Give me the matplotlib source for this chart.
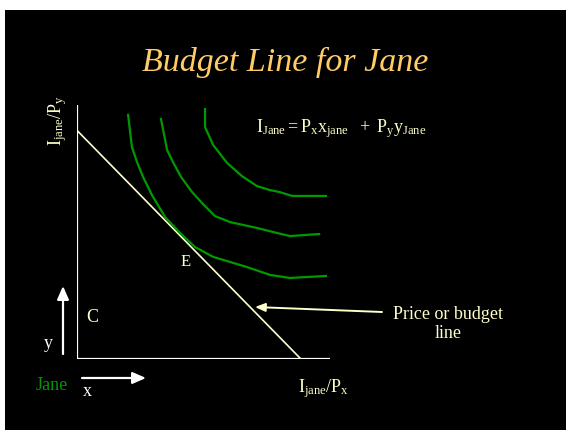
import matplotlib
matplotlib.use("Agg")
import matplotlib.pyplot as plt
from matplotlib.patches import Rectangle

plt.rcParams['font.family'] = ['Liberation Serif', 'DejaVu Serif']
plt.rcParams['mathtext.fontset'] = 'custom'
plt.rcParams['mathtext.rm'] = 'Liberation Serif'
plt.rcParams['mathtext.it'] = 'Liberation Serif:italic'

# Budget line end points (x-intercept and y-intercept)
budget_x = [0.0, 8.85]
budget_y = [9.0, 0.0]

# Indifference curves, lowest to highest utility
u1_x = [2.02, 2.17, 2.37, 2.61, 2.96, 3.48, 4.07, 4.66, 5.38, 6.72, 7.63, 8.42, 9.84]
u1_y = [9.61, 8.35, 7.76, 7.17, 6.46, 5.59, 4.96, 4.41, 4.02, 3.62, 3.31, 3.19, 3.27]

u2_x = [3.32, 3.56, 3.79, 4.11, 4.55, 4.98, 5.45, 6.05, 7.11, 7.91, 8.42, 9.57]
u2_y = [9.45, 8.23, 7.76, 7.17, 6.57, 6.10, 5.63, 5.39, 5.16, 4.96, 4.84, 4.92]

u3_x = [5.06, 5.06, 5.38, 5.93, 6.52, 7.11, 7.63, 8.02, 8.50, 9.84]
u3_y = [9.84, 9.13, 8.43, 7.72, 7.20, 6.81, 6.65, 6.57, 6.42, 6.42]

W, H = 566, 430
fig = plt.figure(figsize=(W / 100, H / 100), dpi=100, facecolor='white')

cream = '#FFFFCC'
green = '#009900'

# overlay in pixel coordinates for the slide background, text and arrows
ov = fig.add_axes([0, 0, 1, 1])
ov.set_xlim(0, W)
ov.set_ylim(H, 0)
ov.axis('off')
ov.add_patch(Rectangle((5, 10), W - 5, H - 10, facecolor='black',
                       edgecolor='none', zorder=0))

# main diagram axes
ax = fig.add_axes([77 / W, (H - 359) / H, (330 - 77) / W, (359 - 105) / H])
ax.set_xlim(0, 10)
ax.set_ylim(0, 10)
ax.axis('off')

ax.plot([0, 0], [0, 10], color='white', lw=1.6, solid_capstyle='butt')
ax.plot([0, 10], [0, 0], color='white', lw=1.6, solid_capstyle='butt')
ax.plot(budget_x, budget_y, color=cream, lw=1.2)
for cx, cy in [(u1_x, u1_y), (u2_x, u2_y), (u3_x, u3_y)]:
    ax.plot(cx, cy, color=green, lw=1.6)

ov.text(285, 71, 'Budget Line for Jane', color='#FFCC66', fontsize=24.5,
        style='italic', ha='center', va='baseline')

ov.text(256, 132, r'$\mathregular{I_{Jane} = P_x x_{jane}\ \ +\ P_y y_{Jane}}$',
        color=cream, fontsize=13, ha='left', va='baseline')

ov.text(58, 121, r'$\mathregular{I_{jane}/P_y}$', color=cream, fontsize=13,
        rotation=90, ha='center', va='center')
ov.text(323, 389, r'$\mathregular{I_{jane}/P_x}$', color=cream, fontsize=13,
        ha='center', va='center')

ov.text(186, 262, 'E', color=cream, fontsize=12, ha='center', va='center')
ov.text(92, 317, 'C', color=cream, fontsize=13, ha='center', va='center')
ov.text(48, 343, 'y', color='white', fontsize=13, ha='center', va='center')
ov.text(87, 392, 'x', color='white', fontsize=13, ha='center', va='center')
ov.text(52, 386, 'Jane', color=green, fontsize=13, ha='center', va='center')

ov.text(448, 324, 'Price or budget\nline', color=cream, fontsize=13,
        ha='center', va='center', linespacing=1.2)

ov.annotate('', xy=(63, 286), xytext=(63, 354),
            arrowprops=dict(arrowstyle='-|>,head_length=0.8,head_width=0.35',
                            color='white', lw=1.6, shrinkA=0, shrinkB=0))
ov.annotate('', xy=(146, 378), xytext=(82, 378),
            arrowprops=dict(arrowstyle='-|>,head_length=0.8,head_width=0.35',
                            color='white', lw=1.6, shrinkA=0, shrinkB=0))
ov.annotate('', xy=(255, 307), xytext=(382, 312),
            arrowprops=dict(arrowstyle='-|>,head_length=0.6,head_width=0.25',
                            color=cream, lw=1.4, shrinkA=0, shrinkB=0))

fig.savefig('out.png', dpi=100, facecolor='white')
